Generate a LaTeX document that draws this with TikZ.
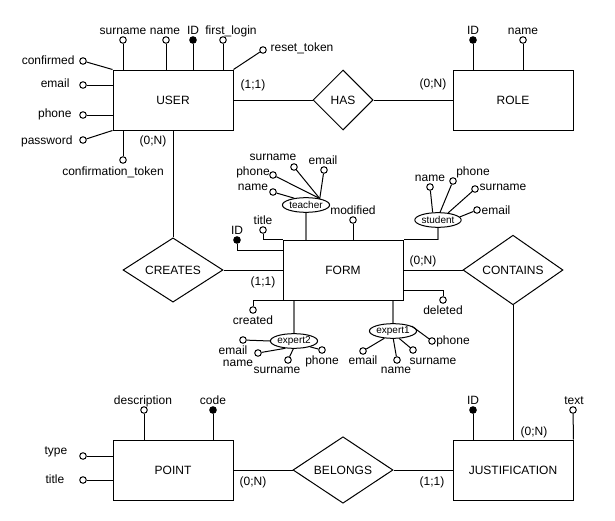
\documentclass[tikz,border=0pt]{standalone}
\usepackage{fontspec}
\setmainfont{Liberation Sans}
\usetikzlibrary{shapes.geometric,calc}
\begin{document}
\begin{tikzpicture}[x=0.75pt,y=-0.75pt,line width=0.75pt,
 every node/.style={font=\fontsize{9}{10}\selectfont},
 entity/.style={draw,minimum width=90pt,minimum height=45pt,inner sep=0pt},
 rel/.style={draw,diamond,inner sep=0pt,minimum width=75pt,minimum height=45pt},
 oattr/.style={circle,draw,fill=white,inner sep=0pt,minimum size=4.9pt},
 kattr/.style={circle,draw,fill=black,inner sep=0pt,minimum size=4.9pt},
 lbl/.style={inner sep=0pt,text height=6.4pt,text depth=1.8pt},
 sub/.style={ellipse,draw,inner sep=0pt,minimum width=34pt,minimum height=11pt,font=\fontsize{7.5}{8}\selectfont},
 glink/.style={draw=black!55,line width=1.1pt}]
\useasboundingbox (0,0) rectangle (615,521);

% entities and relationships
\node[entity] (USER) at (173,100) {USER};
\node[entity] (ROLE) at (513,100) {ROLE};
\node[entity] (FORM) at (343,270) {FORM};
\node[entity] (POINT) at (173,470) {POINT};
\node[entity] (JUST) at (513,470) {JUSTIFICATION};
\node[rel,minimum width=45pt] (HAS) at (343,100) {HAS};
\node[rel] (CREATES) at (173,270) {CREATES};
\node[rel] (CONTAINS) at (513,270) {CONTAINS};
\node[rel] (BELONGS) at (343,470) {BELONGS};

\draw (USER.east) -- (HAS.west);
\draw (HAS.east) -- (ROLE.west);
\draw (USER.south) -- (CREATES.north);
\draw (CREATES.east) -- (FORM.west);
\draw (FORM.east) -- (CONTAINS.west);
\draw (CONTAINS.south) -- (JUST.north);
\draw (POINT.east) -- (BELONGS.west);
\draw (BELONGS.east) -- (JUST.west);

% cardinalities
\node[lbl] (c1) at (253,85) {(1;1)};
\node[lbl] (c2) at (433,84) {(0;N)};
\node[lbl] (c3) at (153,141) {(0;N)};
\node[lbl] (c4) at (263,282) {(1;1)};
\node[lbl] (c5) at (423,261) {(0;N)};
\node[lbl] (c6) at (534,432) {(0;N)};
\node[lbl] (c7) at (253,482) {(0;N)};
\node[lbl] (c8) at (432,482) {(1;1)};

% USER attributes
\node[oattr] (usur) at (123,40) {};
\node[oattr] (uname) at (166,40) {};
\node[kattr] (uid) at (193,40) {};
\node[oattr] (ufl) at (223,40) {};
\node[oattr] (ureset) at (263,50) {};
\node[oattr] (uconf) at (83,61) {};
\node[oattr] (uemail) at (83,85) {};
\node[oattr] (uphone) at (83,115) {};
\node[oattr] (upass) at (83,140) {};
\node[oattr] (uctok) at (123,160) {};
\draw (usur) -- (usur |- USER.north);
\draw (uname) -- (uname |- USER.north);
\draw (uid) -- (uid |- USER.north);
\draw (ufl) -- (ufl |- USER.north);
\draw (ureset) -- (USER.north east);
\draw (uconf) -- (USER.north west);
\draw (uemail) -- (uemail -| USER.west);
\draw (uphone) -- (uphone -| USER.west);
\draw (upass) -- (USER.south west);
\draw (uctok) -- (uctok |- USER.south);
\node[lbl] at (123,31) {surname};
\node[lbl] at (165,31) {name};
\node[lbl] at (193,31) {ID};
\node[lbl] at (231,31) {first\_login};
\node[lbl] at (302,48) {reset\_token};
\node[lbl,anchor=east] at (75,61) {confirmed};
\node[lbl,anchor=east] at (70,84) {email};
\node[lbl,anchor=east] at (72,114) {phone};
\node[lbl,anchor=east] at (73,141) {password};
\node[lbl] at (113,172) {confirmation\_token};

% ROLE attributes
\node[kattr] (rid) at (473,40) {};
\node[oattr] (rname) at (523,40) {};
\draw (rid) -- (rid |- ROLE.north);
\draw (rname) -- (rname |- ROLE.north);
\node[lbl] at (473,31) {ID};
\node[lbl] at (523,31) {name};

% FORM attributes
\coordinate (fidend) at (283,250);
\coordinate (delend) at (403,290);
\node[kattr] (fid) at (237,240) {};
\node[oattr] (ftitle) at (263,230) {};
\node[oattr] (fmod) at (353,220) {};
\node[oattr] (fcreated) at (253,310) {};
\node[oattr] (fdeleted) at (443,300) {};
\draw (fid) |- (fidend);
\draw (ftitle) |- (FORM.north west);
\draw (fmod) -- (fmod |- FORM.north);
\draw (fcreated) |- (FORM.south west);
\draw (fdeleted) |- (delend);
\node[lbl] at (237,231) {ID};
\node[lbl] at (263,221) {title};
\node[lbl] at (353,211) {modified};
\node[lbl] at (253,321) {created};
\node[lbl] at (443,311) {deleted};

% teacher
\node[sub] (teacher) at (306,205) {teacher};
\draw[glink] (teacher) -- (teacher |- FORM.north);
\node[oattr] (tname) at (273,192) {};
\node[oattr] (tphone) at (273,175) {};
\node[oattr] (tsur) at (294,167) {};
\node[oattr] (temail) at (324,170) {};
\draw (tname) -- (teacher.150);
\draw (tphone) -- (teacher.25);
\draw (tsur) -- (teacher.25);
\draw (temail) -- (teacher.25);
\node[lbl] at (273,157) {surname};
\node[lbl] at (323,161) {email};
\node[lbl] at (253,172) {phone};
\node[lbl] at (253,187) {name};

% student
\node[sub] (student) at (438,220) {student};
\draw[glink] (student) -- (student |- FORM.north);
\draw (student |- FORM.north) -- (FORM.north east);
\node[oattr] (sname) at (430,187) {};
\node[oattr] (sphone) at (453,181) {};
\node[oattr] (ssur) at (475,189) {};
\node[oattr] (semail) at (477,210) {};
\draw (sname) -- (student.125);
\draw (sphone) -- (student.75);
\draw (ssur) -- (student.35);
\draw (semail) -- (student.8);
\node[lbl] at (430,178) {name};
\node[lbl] at (473,172) {phone};
\node[lbl] at (503,187) {surname};
\node[lbl] at (496,211) {email};

% expert2
\node[sub] (expert2) at (294,341) {expert2};
\draw[glink] (expert2) -- (expert2 |- FORM.south);
\node[oattr] (e2email) at (243,340) {};
\node[oattr] (e2name) at (258,353) {};
\node[oattr] (e2sur) at (288,360) {};
\node[oattr] (e2phone) at (322,350) {};
\draw (e2email) -- (expert2.180);
\draw (e2name) -- (expert2.220);
\draw (e2sur) -- (expert2.265);
\draw (e2phone) -- (expert2.340);
\node[lbl] at (233,351) {email};
\node[lbl] at (238,363) {name};
\node[lbl] at (277,370) {surname};
\node[lbl] at (322,361) {phone};

% expert1
\node[sub] (expert1) at (393,331) {expert1};
\draw[glink] (expert1) -- (expert1 |- FORM.south);
\node[oattr] (e1email) at (363,351) {};
\node[oattr] (e1name) at (397,360) {};
\node[oattr] (e1sur) at (413,350) {};
\node[oattr] (e1phone) at (432,341) {};
\draw (e1email) -- (expert1.220);
\draw (e1name) -- (expert1.272);
\draw (e1sur) -- (expert1.310);
\draw (e1phone) -- (expert1.15);
\node[lbl] at (363,361) {email};
\node[lbl] at (396,370) {name};
\node[lbl] at (433,361) {surname};
\node[lbl] at (453,341) {phone};

% POINT attributes
\node[oattr] (pdesc) at (144,410) {};
\node[kattr] (pcode) at (213,410) {};
\node[oattr] (ptype) at (83,456) {};
\node[oattr] (ptitle) at (83,480) {};
\draw (pdesc) -- (pdesc |- POINT.north);
\draw (pcode) -- (pcode |- POINT.north);
\draw (ptype) -- (ptype -| POINT.west);
\draw (ptitle) -- (ptitle -| POINT.west);
\node[lbl] at (143,401) {description};
\node[lbl] at (213,401) {code};
\node[lbl] at (56,451) {type};
\node[lbl] at (55,480) {title};

% JUSTIFICATION attributes
\node[kattr] (jid) at (473,410) {};
\node[oattr] (jtext) at (573,410) {};
\draw (jid) -- (jid |- JUST.north);
\draw (jtext) -- (JUST.north east);
\node[lbl] at (473,401) {ID};
\node[lbl] at (574,401) {text};
\end{tikzpicture}
\end{document}
